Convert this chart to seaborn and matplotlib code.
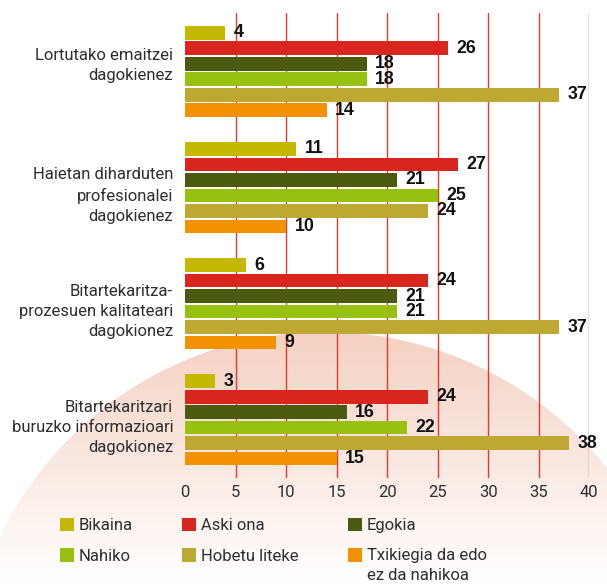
import numpy as np
import pandas as pd
import matplotlib
matplotlib.use("Agg")
import matplotlib.pyplot as plt
import seaborn as sns
from matplotlib.patches import Ellipse
from matplotlib.colors import LinearSegmentedColormap
from matplotlib.transforms import ScaledTranslation

# --- data -------------------------------------------------------------
categories = [
    "Lortutako emaitzei\ndagokienez",
    "Haietan diharduten\nprofesionalei\ndagokienez",
    "Bitartekaritza-\nprozesuen kalitateari\ndagokionez",
    "Bitartekaritzari\nburuzko informazioari\ndagokionez",
]
series = ["Bikaina", "Aski ona", "Egokia", "Nahiko", "Hobetu liteke",
          "Txikiegia da edo\nez da nahikoa"]
bikaina = [4, 11, 6, 3]
aski_ona = [26, 27, 24, 24]
egokia = [18, 21, 21, 16]
nahiko = [18, 25, 21, 22]
hobetu_liteke = [37, 24, 37, 38]
txikiegia = [14, 10, 9, 15]
xticks = [0, 5, 10, 15, 20, 25, 30, 35, 40]
colors = ["#c4b900", "#d8261e", "#4a5a0e", "#98c010", "#bca833", "#f39200"]

values = [bikaina, aski_ona, egokia, nahiko, hobetu_liteke, txikiegia]
df = pd.DataFrame(
    [(c, s, v[i]) for s, v in zip(series, values) for i, c in enumerate(categories)],
    columns=["category", "series", "value"],
)

# --- fonts ------------------------------------------------------------
sns.set_theme(style="white")
plt.rcParams["font.family"] = ["Roboto", "DejaVu Sans"]
plt.rcParams["font.weight"] = "normal"
text_col = "#2e2e2e"
label_size = 12.0

W, H = 607, 584
fig = plt.figure(figsize=(W / 100, H / 100), dpi=100)
fig.patch.set_facecolor("white")

# --- soft background disc --------------------------------------------
bg = fig.add_axes([0, 0, 1, 1], zorder=0)
bg.set_xlim(0, W)
bg.set_ylim(H, 0)
bg.axis("off")
ys = np.linspace(0, H, 600)
stops = [(0.0, "#f5cfbf"), (332 / H, "#f5d1c2"), (450 / H, "#f9e6de"),
         (530 / H, "#fdf5f1"), (1.0, "#ffffff")]
cmap = LinearSegmentedColormap.from_list("haze", stops)
grad = np.tile((ys / H)[:, None], (1, 10))
im = bg.imshow(grad, extent=[0, W, H, 0], aspect="auto", cmap=cmap,
               vmin=0, vmax=1, interpolation="bilinear")
disc = Ellipse((325, 692), 720, 720, transform=bg.transData, facecolor="none",
               edgecolor="none")
bg.add_patch(disc)
im.set_clip_path(disc)

# --- bars -------------------------------------------------------------
ax = fig.add_axes([185 / W, 1 - 478 / H, 404.3 / W, (478 - 13.4) / H], zorder=1)
ax.patch.set_alpha(0)
sns.barplot(data=df, y="category", x="value", hue="series", orient="h",
            palette=colors, width=0.8, gap=0.12, saturation=1, linewidth=0,
            ax=ax, order=categories, hue_order=series, zorder=2)

for x in xticks[1:]:
    ax.axvline(x, color="#dc3a32", lw=1.0, zorder=1)

for cont in ax.containers:
    ax.bar_label(cont, padding=6, fontsize=12.8, fontweight="bold",
                 family=["Liberation Sans", "DejaVu Sans"], color="#111111")

ax.set_xlim(0, 40)
ax.set_ylim(3.5, -0.5)
ax.set_xticks(xticks)
ax.set_xticklabels([str(t) for t in xticks])
ax.set_xlabel("")
ax.set_ylabel("")
ax.tick_params(axis="both", length=0, labelsize=label_size, labelcolor=text_col)
ax.tick_params(axis="x", pad=5)
ax.tick_params(axis="y", pad=8.5)
for lbl in ax.get_yticklabels():
    lbl.set_linespacing(1.42)
    nlines = lbl.get_text().count("\n") + 1
    # two-line labels sit a little high, three-line ones a little low
    dy = -10 if nlines == 2 else 4
    lbl.set_transform(lbl.get_transform()
                      + ScaledTranslation(0, -dy / 100, fig.dpi_scale_trans))
for sp in ax.spines.values():
    sp.set_visible(False)
ax.grid(False)

# --- legend -----------------------------------------------------------
handles, labels = ax.get_legend_handles_labels()
order = [0, 3, 1, 4, 2, 5]
fs_px = label_size * 100 / 72
leg = ax.legend([handles[i] for i in order], [labels[i] for i in order],
                ncol=3, frameon=False, loc="upper left",
                bbox_to_anchor=(60 / W, 1 - 518 / H), bbox_transform=fig.transFigure,
                fontsize=label_size, handlelength=14 / fs_px, handleheight=14 / fs_px,
                handletextpad=5 / fs_px, columnspacing=49 / fs_px,
                labelspacing=0.9, borderpad=0, borderaxespad=0,
                labelcolor=text_col)
for t in leg.get_texts():
    t.set_linespacing(1.4)
# align the square of a wrapped entry with its first line
for col in leg._legend_handle_box.get_children():
    for row in col.get_children():
        txt = row.get_children()[1]
        if "\n" in txt._text.get_text():
            row.align = "top"

fig.savefig("out.png", dpi=100, facecolor="white")
